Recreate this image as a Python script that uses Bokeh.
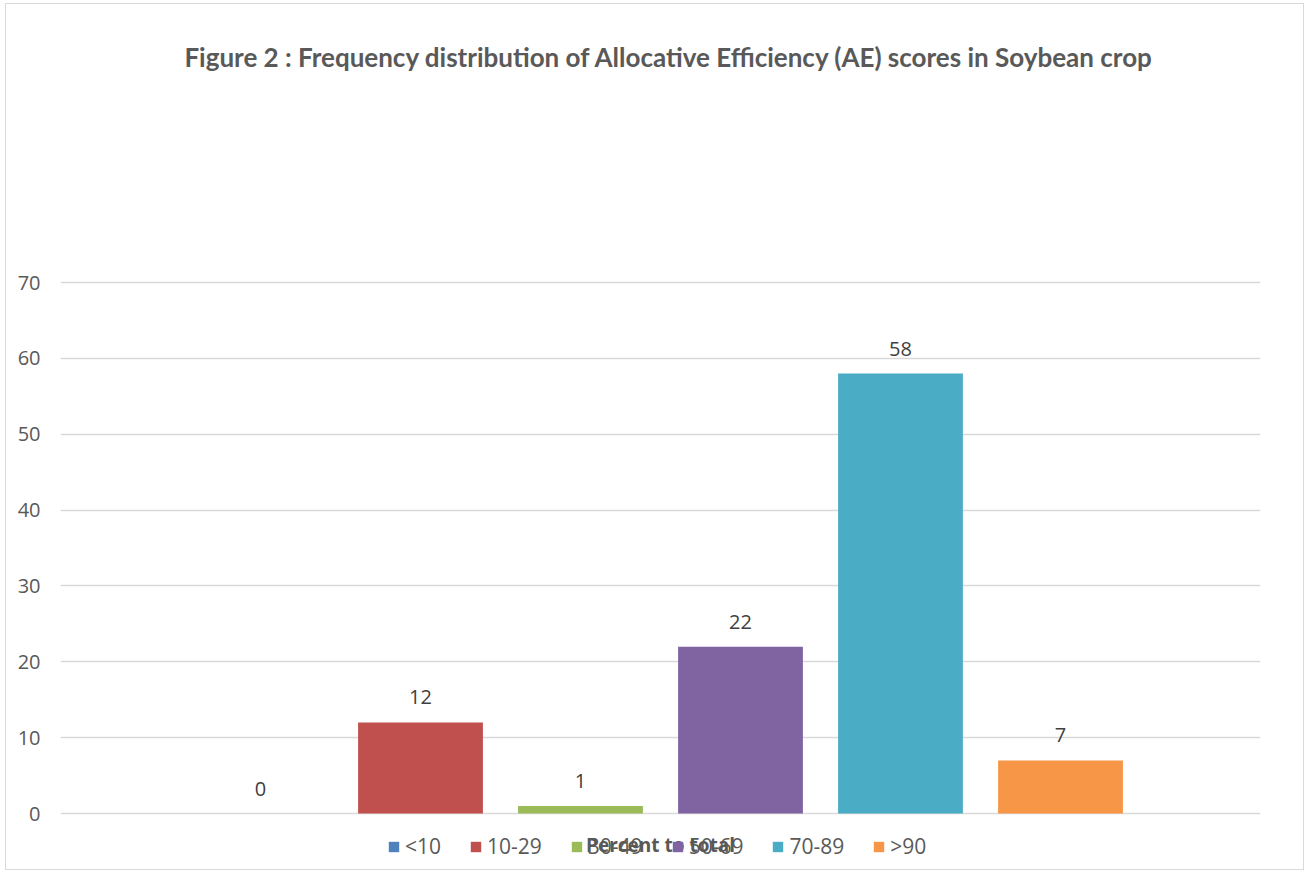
from bokeh.plotting import figure
from bokeh.models import ColumnDataSource, Range1d, FixedTicker, LabelSet, Label, Legend, LegendItem
from bokeh.core.properties import value
from bokeh.embed import file_html
from bokeh.resources import INLINE

categories = ["<10", "10-29", "30-49", "50-69", "70-89", ">90"]
values = [0, 12, 1, 22, 58, 7]
colors = ["#4F81BD", "#C0504D", "#9BBB59", "#8064A2", "#4BACC6", "#F79646"]
y_ticks = [0, 10, 20, 30, 40, 50, 60, 70]

title_text = "Figure 2 : Frequency distribution of Allocative Efficiency (AE) scores in Soybean crop"
x_label = "Percent to total"

src = ColumnDataSource(dict(
    x=list(range(len(categories))),
    top=values,
    cat=categories,
    color=colors,
    lab=[str(v) for v in values],
))

# frame spans the full chart area; y axis shows 0..70 only
p = figure(width=1297, height=865, output_backend="svg", toolbar_location=None,
           x_range=Range1d(-1.25, 6.25), y_range=Range1d(-7.25, 106.0),
           min_border_left=54, min_border_right=43, min_border_top=5, min_border_bottom=1)
p.styles = {"position": "relative", "left": "6px", "top": "4px",
            "outline": "1px solid #d9d9d9"}
p.outline_line_color = None
p.background_fill_color = "white"
p.border_fill_color = "white"

r = p.vbar(x="x", top="top", bottom=0, width=0.78, source=src, fill_color="color", line_color=None)

labels = LabelSet(x="x", y="top", text="lab", source=src, text_align="center",
                  text_baseline="alphabetic", y_offset=18, text_font_size="20px",
                  text_font=value("Open Sans"), text_color="#404040")
p.add_layout(labels)

# title
p.add_layout(Label(x=2.556, y=99.8, text=title_text, text_align="center", text_baseline="middle",
                   text_font="Lato", text_font_style="bold", text_font_size="26px",
                   text_color="#595959"))
# x axis title (overlapping the legend as in the original)
p.add_layout(Label(x=2.5, y=-4.2, text=x_label, text_align="center", text_baseline="middle",
                   text_font="Open Sans", text_font_style="bold", text_font_size="19px",
                   text_color="#595959"))

# axes
p.xaxis.visible = False
p.yaxis.ticker = FixedTicker(ticks=y_ticks)
p.yaxis.axis_line_color = None
p.yaxis.major_tick_line_color = None
p.yaxis.minor_tick_line_color = None
p.yaxis.major_tick_out = 0
p.yaxis.major_label_standoff = 20
p.yaxis.major_label_text_font = "Open Sans"
p.yaxis.major_label_text_font_size = "20px"
p.yaxis.major_label_text_color = "#595959"

p.xgrid.grid_line_color = None
p.ygrid.grid_line_color = "#d9d9d9"
p.ygrid.grid_line_width = 1.5
p.ygrid.ticker = FixedTicker(ticks=y_ticks)

items = [LegendItem(label=c, renderers=[r], index=i) for i, c in enumerate(categories)]
legend = Legend(items=items, orientation="horizontal", location=(327, 8),
                glyph_width=13, glyph_height=13, label_standoff=5, spacing=28,
                padding=0, margin=0, border_line_color=None, background_fill_alpha=0,
                label_text_font="Open Sans", label_text_font_size="21px",
                label_text_color="#595959")
p.add_layout(legend, "center")

open("out.html", "w").write(file_html(p, INLINE))
